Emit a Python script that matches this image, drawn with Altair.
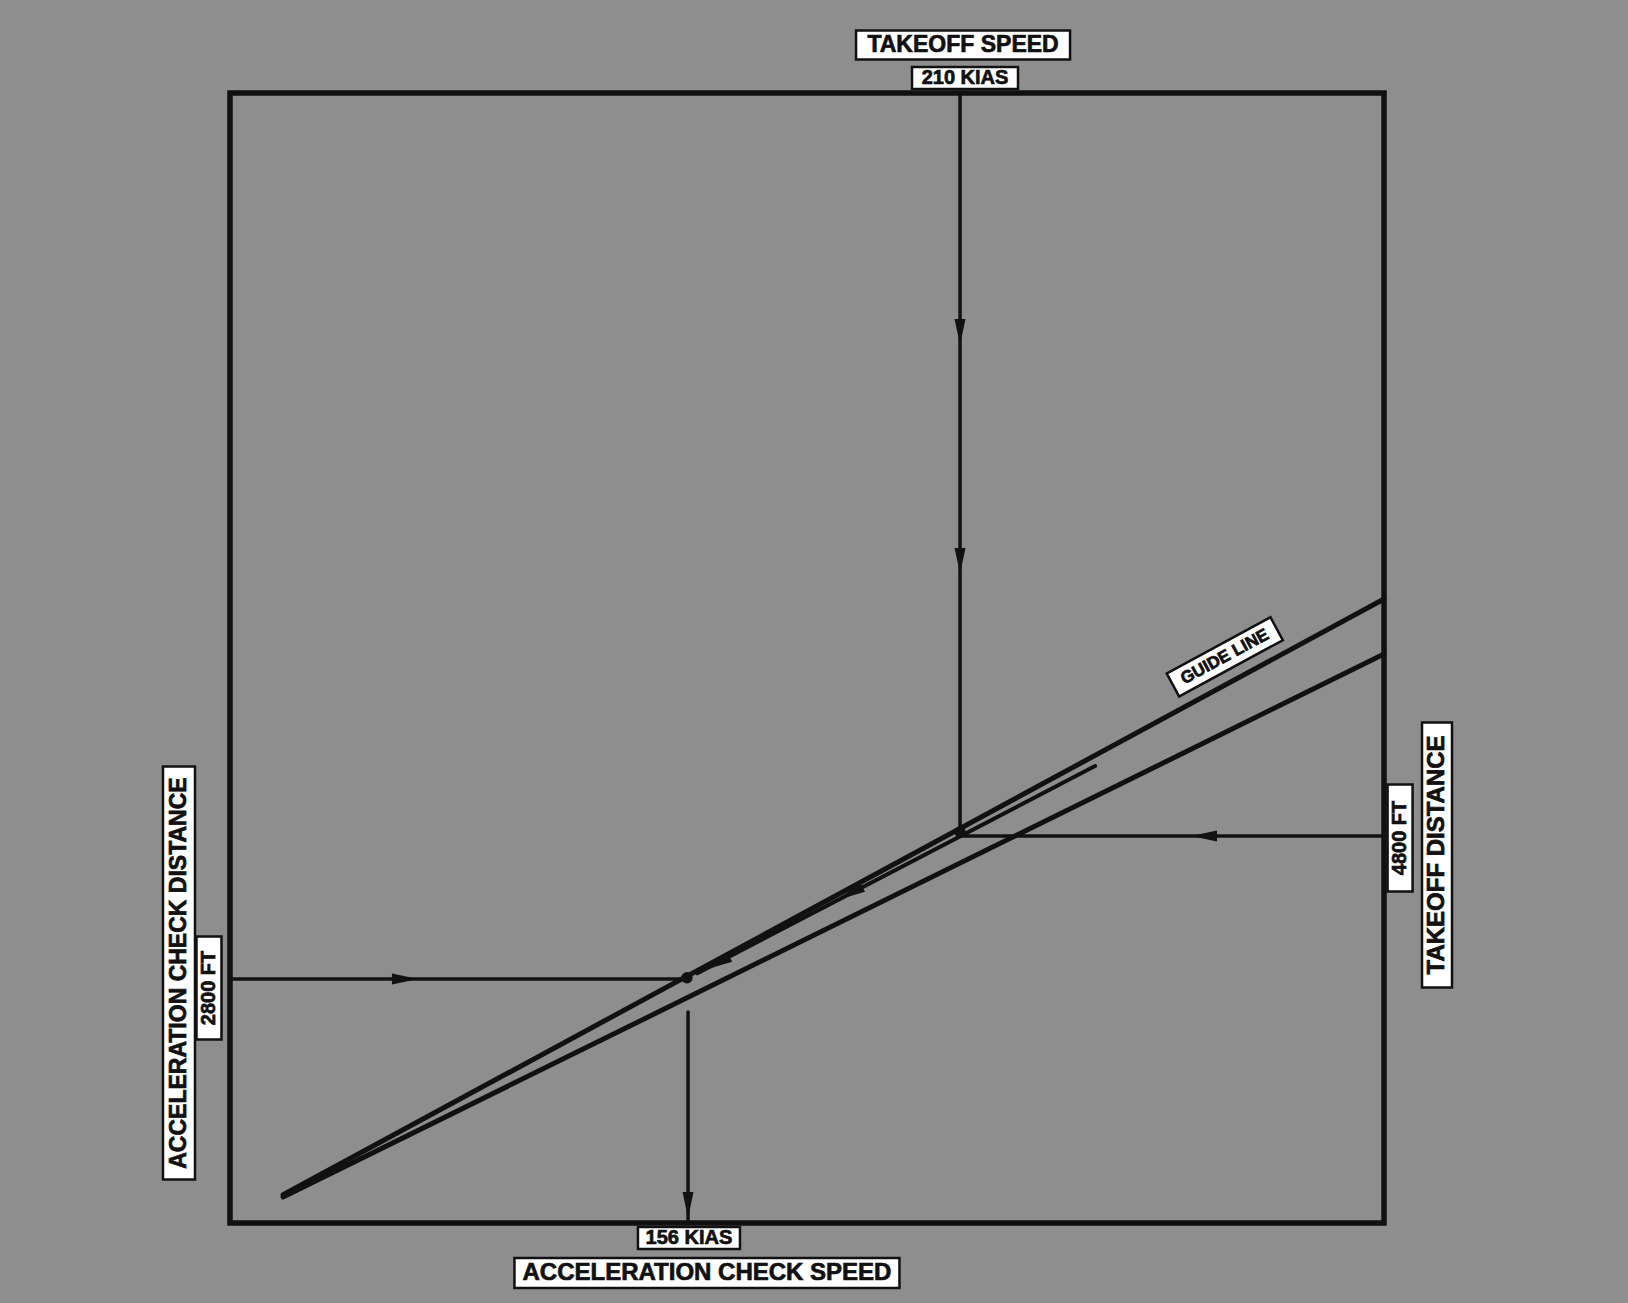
import altair as alt
import pandas as pd

# ---- chart units: the chart frame spans 0..100 on both axes ----
U_DOMAIN = [-19.93, 121.14]
V_DOMAIN = [-7.08, 108.23]

FRAME_U = [0, 100]
FRAME_V = [0, 100]

# line segments of the nomogram (chart units)
LINE_NAMES = ["guide_upper", "guide_lower", "guide_path", "takeoff_speed",
              "takeoff_distance", "accel_distance", "accel_speed"]
LINE_U1 = [4.6, 4.6, 40.5, 63.26, 100.0, 0.0, 39.69]
LINE_V1 = [2.5, 2.3, 22.1, 100.0, 34.25, 21.59, 18.67]
LINE_U2 = [100.0, 100.0, 74.96, 63.26, 63.26, 39.50, 39.69]
LINE_V2 = [55.22, 50.35, 40.44, 34.25, 34.25, 21.59, 0.0]

# arrowheads: position and pointing direction (deg clockwise from "down")
ARROW_U = [63.26, 63.26, 84.4, 15.16, 53.81, 42.3, 39.69]
ARROW_V = [78.85, 58.58, 34.25, 21.59, 29.2, 23.0, 1.6]
ARROW_DIR = [0, 0, 90, 270, 62, 62, 0]

# junction dots
JUNCTION_U = [63.26, 39.6]
JUNCTION_V = [34.6, 21.7]

# labels
LABEL_TEXT = ["TAKEOFF SPEED", "210 KIAS", "4800 FT", "TAKEOFF DISTANCE",
              "ACCELERATION CHECK DISTANCE", "2800 FT", "156 KIAS",
              "ACCELERATION CHECK SPEED", "GUIDE LINE"]
LABEL_U = [63.52, 63.69, 101.39, 104.59, -4.42, -1.82, 39.77, 41.33, 86.2]
LABEL_V = [104.25, 101.33, 34.07, 32.57, 22.12, 20.8, -1.33, -4.42, 50.1]

# ---- styling (kept separate from the data) ----
LINE_WIDTH = {"guide_upper": 5, "guide_lower": 5, "guide_path": 4,
              "takeoff_speed": 3.5, "takeoff_distance": 3.5,
              "accel_distance": 3.5, "accel_speed": 3.5}
# box width, box height (px), angle, font size
LABEL_STYLE = [
    (214, 29, 0, 23),
    (106, 22, 0, 20),
    (107, 25, 270, 20),
    (265, 30, 270, 24),
    (413, 32, 270, 23),
    (103, 25, 270, 20),
    (102, 22, 0, 20),
    (385, 30, 0, 24),
    (118, 26, 331.5, 17),
]

FONT = "Liberation Sans"
INK = "#111111"
BG = "#8e8e8e"

xs = alt.Scale(domain=U_DOMAIN, nice=False, zero=False)
ys = alt.Scale(domain=V_DOMAIN, nice=False, zero=False)


def X(f="u"):
    return alt.X(f"{f}:Q", scale=xs, axis=None)


def Y(f="v"):
    return alt.Y(f"{f}:Q", scale=ys, axis=None)


frame_df = pd.DataFrame({"u": [FRAME_U[0]], "u2": [FRAME_U[1]],
                         "v": [FRAME_V[0]], "v2": [FRAME_V[1]]})
frame = alt.Chart(frame_df).mark_rect(
    fillOpacity=0, stroke=INK, strokeWidth=5.5
).encode(x=X(), x2="u2:Q", y=Y(), y2="v2:Q")

lines_df = pd.DataFrame({"name": LINE_NAMES, "u": LINE_U1, "v": LINE_V1,
                         "u2": LINE_U2, "v2": LINE_V2})
lines_df["w"] = lines_df["name"].map(LINE_WIDTH)
lines = alt.Chart(lines_df).mark_rule(color=INK, strokeCap="round").encode(
    x=X(), y=Y(), x2="u2:Q", y2="v2:Q",
    strokeWidth=alt.StrokeWidth("w:Q", scale=None),
)

arrow_df = pd.DataFrame({"u": ARROW_U, "v": ARROW_V, "dir": ARROW_DIR})
arrows = alt.Chart(arrow_df).mark_point(
    shape="M-0.42,-1L0.42,-1L0,1Z", filled=True, color=INK, opacity=1, size=676
).encode(x=X(), y=Y(), angle=alt.Angle("dir:Q", scale=None))

junc_df = pd.DataFrame({"u": JUNCTION_U, "v": JUNCTION_V})
juncs = alt.Chart(junc_df).mark_point(
    shape="circle", filled=True, color=INK, opacity=1, size=130
).encode(x=X(), y=Y())

layers = [frame, lines, arrows, juncs]

for text, u, v, (bw, bh, ang, fs) in zip(LABEL_TEXT, LABEL_U, LABEL_V, LABEL_STYLE):
    df = pd.DataFrame({"u": [u], "v": [v], "t": [text]})
    h = bh / bw
    path = f"M-1,-{h:.4f}L1,-{h:.4f}L1,{h:.4f}L-1,{h:.4f}Z"
    box = alt.Chart(df).mark_point(
        shape=path, size=bw * bw, filled=True, fill="white", stroke=INK,
        strokeWidth=2.5, opacity=1, angle=ang
    ).encode(x=X(), y=Y())
    txt = alt.Chart(df).mark_text(
        font=FONT, fontWeight="bold", fontSize=fs, color=INK, angle=ang,
        align="center", baseline="middle", stroke=INK, strokeWidth=0.7
    ).encode(x=X(), y=Y(), text="t:N")
    layers += [box, txt]

chart = alt.layer(*layers).properties(
    width=1628, height=1303, background=BG, padding=0,
    autosize=alt.AutoSizeParams(type="none"),
).configure_view(stroke=None)

chart.save("out.html", embed_options={"renderer": "svg", "actions": False})
